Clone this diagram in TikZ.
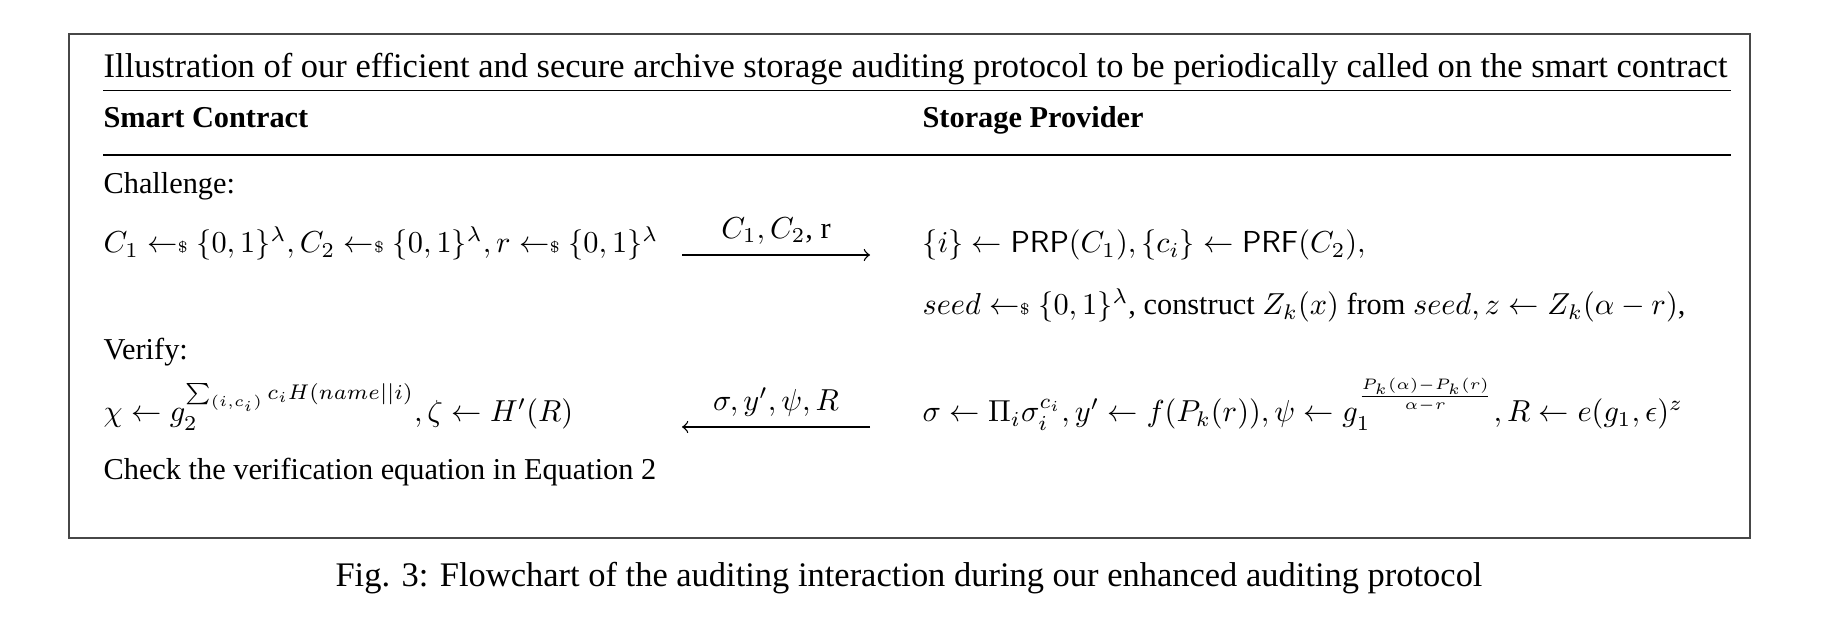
\documentclass[tikz,border=0pt]{standalone}
\usepackage[no-math]{fontspec}
\setmainfont{Liberation Serif}
\usepackage{amssymb}
\usepackage{amsmath}
\usepackage{tikz}
\newcommand{\samp}{\mathrel{\leftarrow\mkern-5mu{\scriptscriptstyle\$}}}
\newcommand{\colleft}{103}
\newcommand{\colright}{922}
\newcommand{\ruleend}{1731}
\tikzset{
    shrunk/.style={scale=0.88, transform shape},
    txt/.style={anchor=base west, inner sep=0pt, shrunk},
    titletxt/.style={anchor=base west, inner sep=0pt},
    head/.style={txt, font=\bfseries},
    caption/.style={anchor=base, inner sep=0pt},
    msglabel/.style={above=3pt, inner sep=0pt, shrunk},
    hrule/.style={line width=0.45pt},
    outerframe/.style={draw=black!72, line width=0.55pt},
    msg/.style={->, line width=0.4pt}
}
\begin{document}
\begin{tikzpicture}[x=0.2901pt, y=-0.2901pt]
    \useasboundingbox (0,0) rectangle (1836,636);
    \draw[outerframe] (68.7,34) rectangle (1750,538);

    \path
        (\colleft,78) node[titletxt] (title) {Illustration of our efficient and secure archive storage auditing protocol to be periodically called on the smart contract}
        (\colleft,128) node[head] (head-sc) {Smart Contract}
        (\colright,128) node[head] (head-sp) {Storage Provider};

    \draw[hrule] (\colleft,90.6) -- (\ruleend,90.6)
                 (\colleft,155) -- (\ruleend,155);

    \path
        (\colleft,194) node[txt] (sc-challenge) {Challenge:}
        ++(0,59) node[txt] (sc-sample) {$C_1 \samp \{0,1\}^\lambda, C_2 \samp \{0,1\}^\lambda, r \samp \{0,1\}^\lambda$}
        ++(0,107) node[txt] (sc-verify) {Verify:}
        ++(0,62) node[txt] (sc-chi) {$\chi \leftarrow g_2^{\sum_{(i,c_i)} c_i H(name||i)}, \zeta \leftarrow H'(R)$}
        ++(0,58) node[txt] (sc-check) {Check the verification equation in Equation 2};

    \path
        (\colright,253) node[txt] (sp-index) {$\{i\} \leftarrow \mathsf{PRP}(C_1), \{c_i\} \leftarrow \mathsf{PRF}(C_2),$}
        ++(0,62) node[txt] (sp-seed) {$seed \samp \{0,1\}^\lambda$, construct $Z_k(x)$ from $seed, z \leftarrow Z_k(\alpha - r)$,}
        ++(0,107) node[txt] (sp-proof) {$\sigma \leftarrow \Pi_i \sigma_i^{c_i}, y' \leftarrow f(P_k(r)), \psi \leftarrow g_1^{\frac{P_k(\alpha)-P_k(r)}{\alpha - r}}, R \leftarrow e(g_1,\epsilon)^z$};

    \coordinate (ch-from) at (682,255);
    \coordinate (ch-to) at (870,255);
    \coordinate (rs-from) at (870,427);
    \coordinate (rs-to) at (682,427);

    \draw[msg] (ch-from) -- node[msglabel] (ch-label) {$C_1, C_2$, r} (ch-to);
    \draw[msg] (rs-from) -- node[msglabel] (rs-label) {$\sigma, y', \psi, R$} (rs-to);

    \node[caption] (fig-caption) at (909,587) {Fig. 3: Flowchart of the auditing interaction during our enhanced auditing protocol};
\end{tikzpicture}
\end{document}
